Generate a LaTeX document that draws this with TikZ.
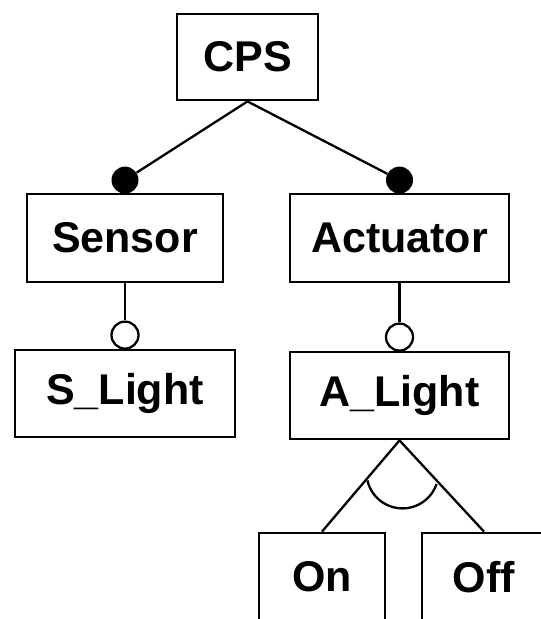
\documentclass[tikz,border=0pt]{standalone}
\usepackage{fontspec}
\setmainfont{Liberation Sans}
\usetikzlibrary{calc}
\tikzset{
  feat/.style={draw=black, line width=2.8pt, fill=white, rectangle, inner sep=0pt,
    font=\fontsize{43}{51}\selectfont\bfseries},
  conn/.style={draw=black, line width=2.3pt},
  mand/.style={circle, fill=black, inner sep=0pt, minimum size=27pt},
  opt/.style={circle, draw=black, line width=2.3pt, fill=white, inner sep=0pt, minimum size=27pt},
}
\begin{document}
\begin{tikzpicture}[x=1pt, y=-1pt]
\useasboundingbox (0,0) rectangle (541,619);
% features
\node[feat, minimum width=141pt, minimum height=86pt] (CPS) at (247.5,57) {CPS};
\node[feat, minimum width=196pt, minimum height=88pt] (Sensor) at (125,238) {Sensor};
\node[feat, minimum width=219pt, minimum height=88pt] (Actuator) at (399.5,238) {Actuator};
\node[feat, minimum width=220pt, minimum height=87pt] (SLight) at (125,393.5) {S\_Light};
\node[feat, minimum width=219pt, minimum height=87pt] (ALight) at (399.5,395.5) {A\_Light};
\node[feat, minimum width=126pt, minimum height=88pt] (On) at (322,577) {On};
\node[feat, minimum width=124pt, minimum height=88pt] (Off) at (484,577) {Off};
% mandatory markers
\node[mand] (m1) at ([yshift=12.5pt]Sensor.north) {};
\node[mand] (m2) at ([yshift=12.5pt]Actuator.north) {};
\draw[conn] (CPS.south) -- (m1);
\draw[conn] (CPS.south) -- (m2);
% optional markers
\node[opt] (o1) at ([yshift=13.5pt]SLight.north) {};
\node[opt] (o2) at ([yshift=13.5pt]ALight.north) {};
\draw[conn] (Sensor.south) -- (o1);
\draw[conn] (Actuator.south) -- (o2);
% alternative group
\draw[conn] (ALight.south) -- (On.north);
\draw[conn] (ALight.south) -- (Off.north);
\coordinate (gc) at ([xshift=3pt,yshift=-32pt]ALight.south);
\draw[conn] (gc) ++(192.9:36pt) arc[start angle=192.9, end angle=341.1, radius=36pt];
\end{tikzpicture}
\end{document}
